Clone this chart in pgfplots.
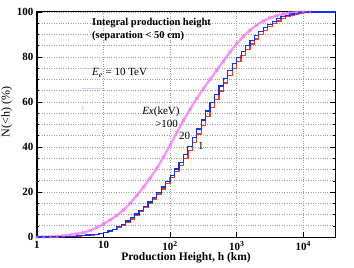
\documentclass[border=0pt]{standalone}
\usepackage{fontspec}
\setmainfont{Liberation Serif}
\usepackage{pgfplots}
\pgfplotsset{compat=1.18}
\usepackage{pgfplotstable}

% log10(h)  blue(20 keV)  red(1 keV)
\pgfplotstableread{
lx blue red
0.000 0 0
0.067 0 0
0.133 0 0
0.200 0.05 0.05
0.267 0.1 0.08
0.333 0.15 0.12
0.400 0.2 0.17
0.467 0.3 0.25
0.533 0.4 0.35
0.600 0.55 0.48
0.667 0.7 0.62
0.733 0.85 0.77
0.800 1.0 0.92
0.867 1.25 1.15
0.933 1.6 1.45
1.000 2.0 1.85
1.067 2.7 2.45
1.133 3.5 3.2
1.200 4.5 4.15
1.267 5.7 5.3
1.333 7.1 6.6
1.400 8.6 8.0
1.467 10.2 9.6
1.533 11.9 11.3
1.600 13.7 13.0
1.667 15.6 14.9
1.733 17.7 16.9
1.800 19.9 19.1
1.867 22.2 21.4
1.933 24.7 23.8
2.000 27.4 26.4
2.067 30.2 29.0
2.133 33.2 31.9
2.200 36.5 35.0
2.267 40.2 38.4
2.333 44.1 42.0
2.400 48.0 45.8
2.467 52.0 49.7
2.533 56.0 53.6
2.600 59.8 57.5
2.667 63.5 61.2
2.733 67.1 64.9
2.800 70.6 68.4
2.867 73.9 71.8
2.933 77.0 75.0
3.000 79.9 78.0
3.067 82.6 80.8
3.133 85.1 83.4
3.200 87.4 85.8
3.267 89.5 88.0
3.333 91.4 90.0
3.400 93.1 91.8
3.467 94.6 93.4
3.533 95.9 94.8
3.600 97.0 96.0
3.667 97.9 97.0
3.733 98.6 97.9
3.800 99.1 98.6
3.867 99.5 99.1
3.933 99.8 99.5
4.000 99.9 99.8
4.067 100 99.9
4.133 100 100
4.478 100 100
}\steps

% log10(h)  magenta (>100 keV)
\pgfplotstableread{
lx mag
0.0 0
0.1 0.05
0.2 0.1
0.3 0.25
0.4 0.5
0.5 0.9
0.6 1.4
0.7 2.0
0.8 2.9
0.9 4.2
1.0 5.8
1.1 7.6
1.2 9.6
1.3 12.0
1.4 15.0
1.5 18.5
1.6 22.2
1.7 26.2
1.8 30.6
1.9 35.5
2.0 40.8
2.1 46.4
2.2 51.8
2.3 56.8
2.4 61.5
2.5 65.9
2.6 70.0
2.7 74.1
2.8 78.2
2.9 82.2
3.0 85.9
3.1 89.1
3.2 91.9
3.3 94.2
3.4 96.0
3.5 97.4
3.6 98.4
3.7 99.1
3.8 99.6
3.9 99.9
4.0 100
4.1 100
}\magdata

\definecolor{cblue}{RGB}{20,50,235}
\definecolor{cred}{RGB}{240,60,40}
\definecolor{cmag}{RGB}{245,110,245}

\begin{document}
\begin{tikzpicture}
\begin{axis}[
  scale only axis, width=298pt, height=225pt,
  xmode=log, log basis x=10,
  xmin=1, xmax=30000, ymin=0, ymax=100,
  xtick={1,10,100,1000,10000},
  xticklabels={1,10,10\textsuperscript{2},10\textsuperscript{3},10\textsuperscript{4}},
  ytick={0,20,40,60,80,100},
  yticklabels={0,20,40,60,80,100},
  minor ytick={5,10,15,25,30,35,45,50,55,65,70,75,85,90,95},
  xtick pos=left, ytick pos=both,
  tick align=inside,
  major tick length=5pt, minor tick length=2.5pt,
  tick style={black, line width=0.8pt},
  minor tick style={black, line width=0.5pt},
  grid=both,
  major grid style={gray!75, dotted, line width=0.6pt},
  minor grid style={gray!75, dotted, line width=0.6pt},
  axis line style={black, line width=1pt},
  ticklabel style={font=\fontsize{11}{12}\selectfont\bfseries},
  xticklabel style={yshift=-1pt},
  xlabel={Production Height, h (km)},
  xlabel style={font=\fontsize{11.5}{13}\selectfont\bfseries, yshift=5pt},
  ylabel={N(<h) (\%)},
  ylabel style={font=\fontsize{12}{14}\selectfont, at={(ticklabel cs:0.555)}, anchor=near ticklabel, yshift=-2pt},
  clip=true,
]
% faint legend remnants
\addplot[cred!35, line width=0.8pt, forget plot] coordinates {(4.75,75.1) (9.8,75.1)};
\addplot[cblue!20, line width=0.8pt, forget plot] coordinates {(4.75,66.2) (9.8,66.2)};
\addplot[cmag!50, line width=0.8pt, forget plot] coordinates {(4.75,56.5) (4.75,58.0)};

\addplot[cmag, line width=2.4pt, opacity=0.7, mark=x, mark size=2.2pt,
  mark options={line width=0.8pt}] table[x expr={10^\thisrow{lx}}, y=mag] {\magdata};
\addplot[const plot, cred, line width=1.3pt] table[x expr={10^\thisrow{lx}}, y=red] {\steps};
\addplot[const plot, cblue, line width=1.2pt] table[x expr={10^\thisrow{lx}}, y=blue] {\steps};

\node[anchor=north west, font=\fontsize{10.5}{12.5}\selectfont\bfseries, align=left, inner sep=0pt]
  at (axis cs:6.7,97.2) {Integral production height\\(separation < 50 cm)};
\node[anchor=west, font=\fontsize{11}{13}\selectfont, inner sep=0pt]
  at (axis cs:6.7,72.8) {\textit{E\textsubscript{e}} = 10 TeV};
\node[anchor=west, font=\fontsize{11}{13}\selectfont, inner sep=0pt]
  at (axis cs:37.9,55.6) {\textit{Ex}(keV)};
\node[anchor=west, font=\fontsize{11}{13}\selectfont, inner sep=0pt]
  at (axis cs:59.4,50.2) {>100};
\node[anchor=west, font=\fontsize{11}{13}\selectfont, inner sep=0pt]
  at (axis cs:136,44.9) {20};
\node[anchor=west, font=\fontsize{11}{13}\selectfont, inner sep=0pt]
  at (axis cs:262,40.4) {1};
\end{axis}
\pgfresetboundingbox
\path ([shift={(-37pt,-30pt)}]current axis.south west) rectangle ([shift={(19pt,12pt)}]current axis.north east);
\end{tikzpicture}
\end{document}
